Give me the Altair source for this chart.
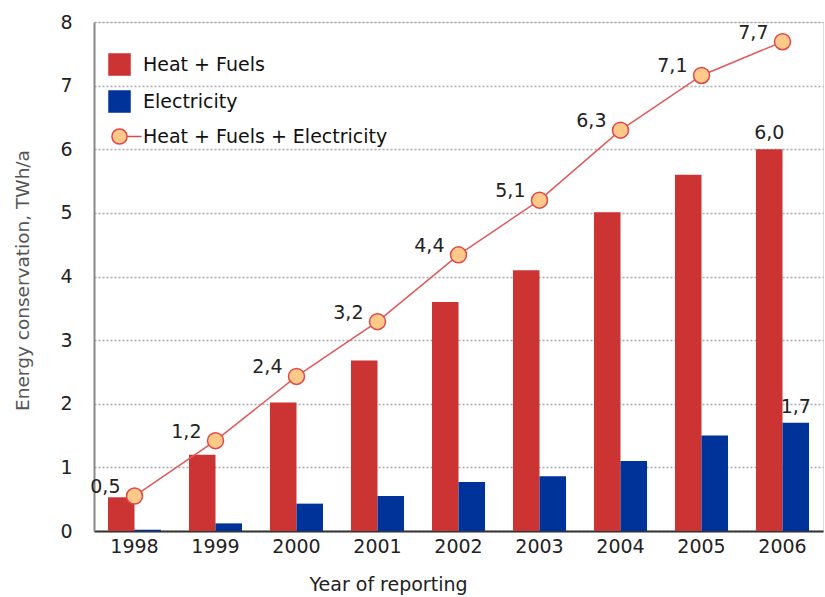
import altair as alt
import pandas as pd

years = ["1998", "1999", "2000", "2001", "2002", "2003", "2004", "2005", "2006"]
heat_fuels = [0.53, 1.20, 2.02, 2.68, 3.60, 4.10, 5.01, 5.60, 6.00]
electricity = [0.02, 0.12, 0.43, 0.55, 0.77, 0.86, 1.10, 1.50, 1.70]
total = [0.55, 1.42, 2.43, 3.29, 4.34, 5.20, 6.30, 7.16, 7.69]
total_labels = ["0,5", "1,2", "2,4", "3,2", "4,4", "5,1", "6,3", "7,1", "7,7"]

bar_label_years = ["2006", "2006"]
bar_label_series = ["Heat + Fuels", "Electricity"]
bar_label_values = [6.00, 1.70]
bar_label_text = ["6,0", "1,7"]

series_names = ["Heat + Fuels", "Electricity", "Heat + Fuels + Electricity"]
fill_colors = ["#cc3333", "#003399", "#ffc98a"]
stroke_colors = ["#cc3333", "#003399", "#e04848"]
line_symbol = "M0.72,0A0.72,0.72,0,1,1,-0.72,0A0.72,0.72,0,1,1,0.72,0Z M0.72,0L2.1,0"
shape_range = ["square", "square", line_symbol]

FONT = "DejaVu Sans"

bars_df = pd.DataFrame({
    "year": years * 2,
    "series": [series_names[0]] * len(years) + [series_names[1]] * len(years),
    "value": heat_fuels + electricity,
})
total_df = pd.DataFrame({
    "year": years,
    "series": [series_names[2]] * len(years),
    "value": total,
    "label": total_labels,
})
bar_lab_df = pd.DataFrame({
    "year": bar_label_years,
    "series": bar_label_series,
    "value": bar_label_values,
    "label": bar_label_text,
})

legend = alt.Legend(title=None, orient="none", legendX=14, legendY=31, padding=0,
                    symbolSize=441, symbolStrokeWidth=1.5, labelFont=FONT,
                    labelFontSize=19, labelColor="#111", labelOffset=12,
                    labelLimit=0, rowPadding=10)

x = alt.X("year:N",
          scale=alt.Scale(paddingInner=0.345, paddingOuter=0.1725),
          axis=alt.Axis(labelAngle=0, ticks=False, domainColor="#333", domainWidth=2,
                        labelPadding=6, labelFont=FONT, labelFontSize=19, labelColor="#222",
                        title="Year of reporting", titleFont=FONT, titleFontSize=19,
                        titleFontWeight="normal", titleColor="#222",
                        titleX=294, titleY=59, titleAlign="center",
                        titleBaseline="alphabetic", grid=False))
y = alt.Y("value:Q",
          scale=alt.Scale(domain=[0, 8], nice=False),
          axis=alt.Axis(values=[0, 1, 2, 3, 4, 5, 6, 7, 8], ticks=False, grid=True,
                        gridDash=[2, 2], gridColor="#aaaaaa", gridWidth=1.5,
                        domainColor="#888", domainWidth=2, labelPadding=22,
                        labelFont=FONT, labelFontSize=19, labelColor="#222",
                        title="Energy conservation, TWh/a", titleFont=FONT,
                        titleFontSize=18.5, titleFontWeight="normal", titleColor="#555",
                        titleX=-72, titleY=258, titleAngle=270, titleAlign="center",
                        titleBaseline="middle"))

fill = alt.Fill("series:N", scale=alt.Scale(domain=series_names, range=fill_colors), legend=legend)
stroke = alt.Stroke("series:N", scale=alt.Scale(domain=series_names, range=stroke_colors), legend=legend)
shape = alt.Shape("series:N", scale=alt.Scale(domain=series_names, range=shape_range), legend=legend)
xoff = alt.XOffset("series:N", scale=alt.Scale(domain=series_names[:2], paddingInner=0, paddingOuter=0))

bars = alt.Chart(bars_df).mark_bar(opacity=1).encode(x=x, y=y, xOffset=xoff, fill=fill)

line = alt.Chart(total_df).mark_line(color="#e05a5a", strokeWidth=1.5).encode(x=x, y=y)

points = alt.Chart(total_df).mark_point(filled=True, size=256, strokeWidth=1.5, opacity=1).encode(
    x=x, y=y, fill=fill, stroke=stroke)

legend_shape = alt.Chart(total_df).transform_filter("datum.value < -100").mark_point(
    filled=True, opacity=1, strokeWidth=1.5).encode(x=x, y=y, fill=fill, stroke=stroke, shape=shape)

total_text = alt.Chart(total_df).mark_text(align="right", baseline="middle", dx=-14, dy=-9,
                                           font=FONT, fontSize=19, color="#222").encode(
    x=x, y=y, text="label:N")

bar_text = alt.Chart(bar_lab_df).mark_text(align="center", baseline="bottom", dy=-6,
                                           font=FONT, fontSize=19, color="#222").encode(
    x=x, y=y, xOffset=xoff, text="label:N")

chart = alt.layer(bars, line, points, legend_shape, total_text, bar_text).properties(
    width=729, height=509,
    autosize=alt.AutoSizeParams(type="none"),
    padding={"left": 94, "top": 22, "right": 2, "bottom": 66},
).configure_view(stroke=None).configure(background="white")

chart.save("out.html", embed_options={"renderer": "svg", "actions": False})
